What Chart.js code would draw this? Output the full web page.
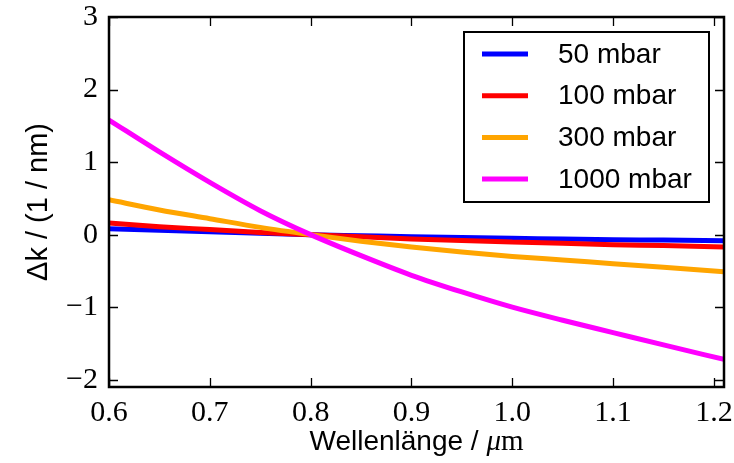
<!DOCTYPE html>
<html>
<head>
<meta charset="utf-8">
<script src="https://cdn.jsdelivr.net/npm/chart.js@4/dist/chart.umd.min.js"></script>
<style>
  html, body { margin: 0; padding: 0; background: #fff; }
  canvas { display: block; }
</style>
</head>
<body>
<canvas id="chart" width="734" height="463"></canvas>
<script>
// wavelength in µm
const wavelengths = [0.60, 0.65, 0.70, 0.75, 0.80, 0.85, 0.90, 0.95, 1.00, 1.05, 1.10, 1.15, 1.21];
// delta k in 1/nm for each pressure
const dk50 = [0.08, 0.06, 0.04, 0.02, 0, -0.015, -0.03, -0.04, -0.05, -0.06, -0.07, -0.075, -0.085];
const dk100 = [0.16, 0.11, 0.07, 0.03, 0, -0.03, -0.06, -0.08, -0.10, -0.12, -0.14, -0.15, -0.17];
const dk300 = [0.48, 0.34, 0.22, 0.10, 0, -0.09, -0.17, -0.24, -0.30, -0.35, -0.40, -0.45, -0.51];
const dk1000 = [1.58, 1.14, 0.72, 0.33, 0, -0.29, -0.56, -0.79, -1.00, -1.18, -1.35, -1.52, -1.72];

const seriesLabels = ["50 mbar", "100 mbar", "300 mbar", "1000 mbar"];
const xTickValues = [0.6, 0.7, 0.8, 0.9, 1.0, 1.1, 1.2];
const yTickValues = [-2, -1, 0, 1, 2, 3];

const seriesColors = ["#0000ff", "#ff0000", "#ffa500", "#ff00ff"];
const serif = "'Liberation Serif', 'DejaVu Serif', serif";
const sans = "'Liberation Sans', Arial, sans-serif";

function toPoints(ys) {
  return wavelengths.map((w, i) => ({ x: w, y: ys[i] }));
}

function minusSign(v) {
  return v < 0 ? "\u2212" + Math.abs(v) : String(v);
}

// frame with inward ticks, axis titles and boxed legend
const framePlugin = {
  id: "frame",
  afterDraw(chart) {
    const { ctx, chartArea: a, scales } = chart;
    const x = scales.x, y = scales.y;
    const tick = 9;
    ctx.save();
    ctx.strokeStyle = "#000";
    ctx.lineWidth = 1.3;
    ctx.beginPath();
    xTickValues.forEach((v) => {
      const px = Math.round(x.getPixelForValue(v)) + 0.5;
      ctx.moveTo(px, a.bottom); ctx.lineTo(px, a.bottom - tick);
      ctx.moveTo(px, a.top); ctx.lineTo(px, a.top + tick);
    });
    yTickValues.forEach((v) => {
      const py = Math.round(y.getPixelForValue(v)) + 0.5;
      ctx.moveTo(a.left, py); ctx.lineTo(a.left + tick, py);
      ctx.moveTo(a.right, py); ctx.lineTo(a.right - tick, py);
    });
    ctx.stroke();
    ctx.lineWidth = 2.5;
    ctx.strokeRect(a.left, a.top, a.right - a.left, a.bottom - a.top);

    // x title: sans text followed by math-style unit
    ctx.fillStyle = "#000";
    ctx.textBaseline = "alphabetic";
    ctx.textAlign = "left";
    const part1 = "Wellenlänge / ";
    ctx.font = "28px " + sans;
    const w1 = ctx.measureText(part1).width;
    ctx.font = "italic 29px " + serif;
    const w2 = ctx.measureText("\u03bc").width;
    ctx.font = "29px " + serif;
    const w3 = ctx.measureText("m").width;
    let tx = (a.left + a.right) / 2 - (w1 + w2 + w3) / 2;
    const ty = 450;
    ctx.font = "28px " + sans;
    ctx.fillText(part1, tx, ty);
    tx += w1;
    ctx.font = "italic 29px " + serif;
    ctx.fillText("\u03bc", tx, ty);
    tx += w2;
    ctx.font = "29px " + serif;
    ctx.fillText("m", tx, ty);

    // y title, rotated
    ctx.save();
    ctx.translate(47, (a.top + a.bottom) / 2);
    ctx.rotate(-Math.PI / 2);
    ctx.textAlign = "center";
    ctx.font = "29px " + sans;
    ctx.fillText("\u0394k / (1 / nm)", 0, 0);
    ctx.restore();

    // legend
    const box = { left: a.right - 260, top: a.top + 15, width: 245, height: 170 };
    ctx.fillStyle = "#fff";
    ctx.fillRect(box.left, box.top, box.width, box.height);
    ctx.lineWidth = 2;
    ctx.strokeRect(box.left, box.top, box.width, box.height);
    ctx.font = "28px " + sans;
    ctx.textBaseline = "middle";
    ctx.textAlign = "left";
    seriesLabels.forEach((label, i) => {
      const ry = box.top + 22 + i * 41.7;
      ctx.strokeStyle = seriesColors[i];
      ctx.lineWidth = 5;
      ctx.beginPath();
      ctx.moveTo(box.left + 18, ry);
      ctx.lineTo(box.left + 64, ry);
      ctx.stroke();
      ctx.fillStyle = "#000";
      ctx.fillText(label, box.left + 94, ry + 1);
    });
    ctx.restore();
  },
};

const series = [dk50, dk100, dk300, dk1000];

new Chart(document.getElementById("chart"), {
  type: "line",
  data: {
    datasets: series.map((ys, i) => ({
      label: seriesLabels[i],
      data: toPoints(ys),
      borderColor: seriesColors[i],
      borderWidth: 5,
      pointRadius: 0,
      cubicInterpolationMode: "monotone",
      fill: false,
      order: series.length - i,
    })),
  },
  options: {
    responsive: false,
    animation: false,
    devicePixelRatio: 1,
    layout: { padding: { top: 17, right: 10, left: 0, bottom: 0 } },
    plugins: {
      legend: { display: false },
      tooltip: { enabled: false },
    },
    scales: {
      x: {
        type: "linear",
        min: 0.6,
        max: 1.21,
        afterBuildTicks: (scale) => {
          scale.ticks = xTickValues.map((v) => ({ value: v }));
        },
        afterFit: (scale) => {
          scale.height = 76;
          scale.paddingLeft = 0;
          scale.paddingRight = 0;
        },
        grid: { display: false, drawTicks: false },
        border: { display: false },
        ticks: {
          autoSkip: false,
          maxRotation: 0,
          padding: 8,
          color: "#000",
          font: { family: serif, size: 30 },
          callback: (v) => Number(v).toFixed(1),
        },
      },
      y: {
        min: -2.1,
        max: 3,
        afterBuildTicks: (scale) => {
          scale.ticks = yTickValues.map((v) => ({ value: v }));
        },
        afterFit: (scale) => {
          scale.width = 109;
          scale.paddingTop = 0;
          scale.paddingBottom = 0;
        },
        grid: { display: false, drawTicks: false },
        border: { display: false },
        ticks: {
          padding: 11,
          color: "#000",
          font: { family: serif, size: 30 },
          callback: (v) => minusSign(v),
        },
      },
    },
  },
  plugins: [framePlugin],
});
</script>
</body>
</html>
